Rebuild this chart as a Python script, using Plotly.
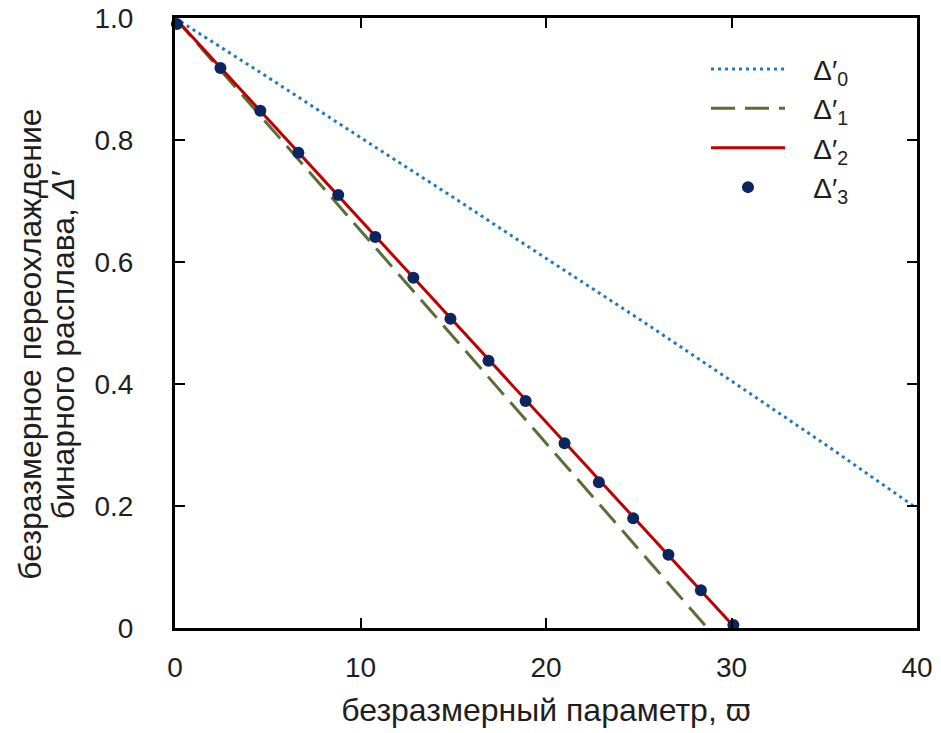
import plotly.graph_objects as go

# Δ'0 (dotted blue)
d0_x = [0, 5, 10, 15, 20, 25, 30, 35, 40]
d0_y = [1.0, 0.903, 0.804, 0.706, 0.606, 0.507, 0.405, 0.302, 0.196]

# Δ'1 (dashed green)
d1_x = [0, 10, 20, 28.7]
d1_y = [1.0, 0.652, 0.303, 0.0]

# Δ'2 (solid red)
d2_x = [0, 10, 20, 30.2]
d2_y = [1.0, 0.669, 0.338, 0.0]

# Δ'3 (dots)
d3_x = [0.1, 2.45, 4.6, 6.65, 8.8, 10.8, 12.85, 14.85, 16.9, 18.9, 21.0, 22.85, 24.7, 26.6, 28.35, 30.1]
d3_y = [0.99, 0.918, 0.848, 0.779, 0.710, 0.641, 0.574, 0.507, 0.438, 0.372, 0.303, 0.239, 0.180, 0.120, 0.062, 0.005]

x_ticks = [0, 10, 20, 30, 40]
y_ticks = [0, 0.2, 0.4, 0.6, 0.8, 1.0]
y_tick_text = ["0", "0.2", "0.4", "0.6", "0.8", "1.0"]

y_title_lines = ["безразмерное переохлаждение", "бинарного расплава, <i>Δ′</i>"]
x_title = "безразмерный параметр, ϖ"

FONT = "Liberation Sans, Arial, sans-serif"
TXT = "#1e1e1e"
GAP = "\u00a0\u00a0\u00a0"

fig = go.Figure()
fig.add_trace(go.Scatter(x=d0_x, y=d0_y, mode="lines", name=GAP + "Δ′<sub>0</sub>",
                         line=dict(color="#1f78c0", width=3, dash="3px,4px")))
fig.add_trace(go.Scatter(x=d1_x, y=d1_y, mode="lines", name=GAP + "Δ′<sub>1</sub>",
                         line=dict(color="#5b6e35", width=3, dash="24px,10px")))
fig.add_trace(go.Scatter(x=d2_x, y=d2_y, mode="lines", name=GAP + "Δ′<sub>2</sub>",
                         line=dict(color="#c00000", width=3)))
fig.add_trace(go.Scatter(x=d3_x, y=d3_y, mode="markers", name=GAP + "Δ′<sub>3</sub>",
                         marker=dict(color="#0b2561", size=12), cliponaxis=False))

axis_common = dict(showline=True, linecolor="black", linewidth=3, mirror="ticks",
                   ticks="inside", ticklen=10, tickwidth=2, tickcolor="black",
                   showgrid=False, zeroline=False, automargin=False,
                   tickfont=dict(family=FONT, size=28, color=TXT))

fig.update_xaxes(range=[0, 40], tickvals=x_ticks, ticklabelstandoff=12,
                 title=dict(text=x_title,
                            font=dict(family=FONT, size=32, color=TXT), standoff=18),
                 **axis_common)
fig.update_yaxes(range=[0, 1], tickvals=y_ticks, ticktext=y_tick_text, ticklabelstandoff=33,
                 **axis_common)

# two-line y-axis title as rotated annotations
fig.add_annotation(text=y_title_lines[0], xref="paper", yref="paper",
                   x=-0.195, y=0.465, xanchor="center", yanchor="middle",
                   textangle=-90, showarrow=False,
                   font=dict(family=FONT, size=32, color=TXT))
fig.add_annotation(text=y_title_lines[1], xref="paper", yref="paper",
                   x=-0.151, y=0.465, xanchor="center", yanchor="middle",
                   textangle=-90, showarrow=False,
                   font=dict(family=FONT, size=32, color=TXT))

fig.update_layout(
    width=941, height=733,
    margin=dict(l=175, r=24, t=18, b=105),
    paper_bgcolor="white", plot_bgcolor="white",
    showlegend=True,
    legend=dict(x=0.7156, y=0.957, xanchor="left", yanchor="top",
                font=dict(family=FONT, size=28, color=TXT),
                bgcolor="rgba(0,0,0,0)", itemwidth=74, tracegroupgap=0),
)

fig.write_html("out.html", post_script="document.body.style.margin='0';",
               config={"displayModeBar": False})
